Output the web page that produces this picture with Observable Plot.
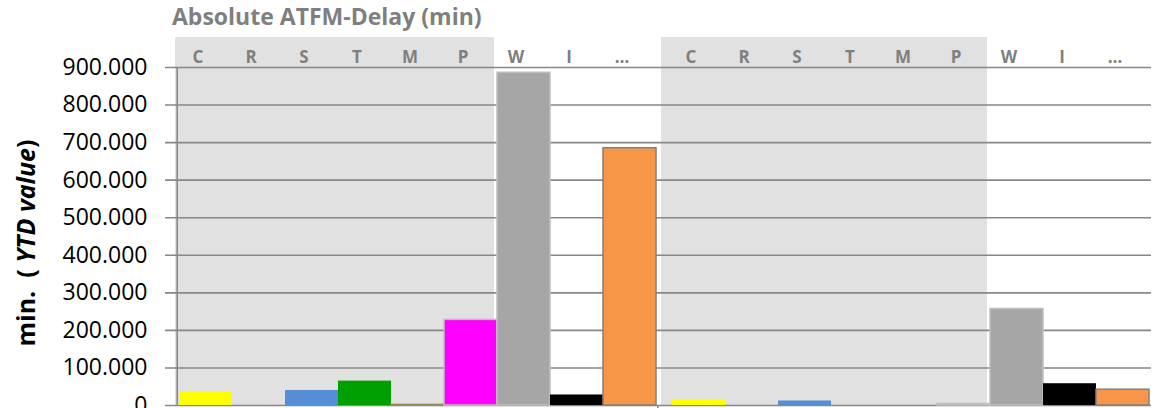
<!DOCTYPE html>
<html>
<head>
<meta charset="utf-8">
<script src="https://cdn.jsdelivr.net/npm/d3@7"></script>
<script src="https://cdn.jsdelivr.net/npm/@observablehq/plot@0.6"></script>
<style>
  html, body { margin: 0; padding: 0; background: #fff; }
  #wrap { position: relative; width: 1157px; height: 408px; overflow: hidden; font-family: "Open Sans", sans-serif; }
  #title { position: absolute; left: 172px; top: 1px; font-size: 23px; font-weight: bold; color: #7f7f7f; white-space: nowrap; line-height: 31px; }
  #ylab { position: absolute; left: 25px; top: 243px; transform: translate(-50%, -50%) rotate(-90deg); font-size: 25px; font-weight: bold; color: #000; white-space: nowrap; }
  #chart { position: absolute; left: 0; top: 37px; }
</style>
</head>
<body>
<div id="wrap">
  <div id="title">Absolute ATFM-Delay (min)</div>
  <div id="ylab">min.&nbsp; ( <i>YTD value</i>)</div>
  <div id="chart"></div>
</div>
<script>
// ---- data ----
const categories = ["C", "R", "S", "T", "M", "P", "W", "I", "…"];
const groupNames = ["g1", "g2"];
const group1Values = [37000, 0, 40000, 65000, 1500, 228000, 886000, 28000, 685000];
const group2Values = [15000, 0, 12000, 0, 0, 4000, 257000, 58000, 42000];
const shadedCategories = ["C", "R", "S", "T", "M", "P"];
const yTicks = [0, 100000, 200000, 300000, 400000, 500000, 600000, 700000, 800000, 900000];
const categoryColors = ["#FFFF00", "#FFFFFF", "#558ED5", "#00A000", "#948A54", "#FF00FF", "#A6A6A6", "#000000", "#F79646"];
const categoryStrokes = ["none", "none", "none", "none", "#948A54", "#BFBFBF", "#BFBFBF", "none", "#808080"];

// ---- build table ----
const groupValues = [group1Values, group2Values];
const rows = [];
groupNames.forEach((g, gi) => {
  categories.forEach((c, i) => {
    rows.push({group: g, cat: c, value: groupValues[gi][i]});
  });
});
const bgRows = rows.filter(d => shadedCategories.includes(d.cat));

const fmt = d3.formatLocale({decimal: ",", thousands: ".", grouping: [3], currency: ["", ""]}).format(",");

const W = 1157, H = 371, mL = 176, mR = 6, mT = 30, mB = 3;
const gap = 11;
const facetW = (W - mL - mR - gap) / 2;
const step = facetW + gap;
const bw = facetW / categories.length;
const bgFill = "#E1E1E1";
const gridColor = "#878787";

const plot = Plot.plot({
  width: W,
  height: H,
  marginLeft: mL,
  marginRight: mR,
  marginTop: mT,
  marginBottom: mB,
  style: {fontFamily: "Open Sans, sans-serif", background: "transparent", overflow: "visible"},
  fx: {domain: groupNames, paddingInner: gap / step, paddingOuter: 0, axis: null, label: null},
  x: {type: "band", domain: categories, padding: 0, axis: null},
  y: {domain: [0, 900000], axis: null},
  marks: [
    // shaded background band (C..P)
    Plot.barY(bgRows.filter(d => d.cat !== "C" && d.cat !== "P"), {fx: "group", x: "cat", y1: 0, y2: 900000, insetTop: -mT, fill: bgFill}),
    Plot.barY(bgRows.filter(d => d.cat === "C" && d.group === "g1"), {fx: "group", x: "cat", y1: 0, y2: 900000, insetTop: -mT, insetLeft: -4, fill: bgFill}),
    Plot.barY(bgRows.filter(d => d.cat === "C" && d.group === "g2"), {fx: "group", x: "cat", y1: 0, y2: 900000, insetTop: -mT, insetLeft: -gap, fill: bgFill}),
    Plot.barY(bgRows.filter(d => d.cat === "P"), {fx: "group", x: "cat", y1: 0, y2: 900000, insetTop: -mT, insetRight: 3, fill: bgFill}),
    // gridlines (extend left to form ticks / bridge the gap)
    Plot.ruleY(yTicks, {stroke: gridColor, strokeWidth: 1.6, insetLeft: -gap}),
    // bars
    Plot.barY(rows.filter(d => d.value > 0), {
      fx: "group", x: "cat", y: "value",
      fill: d => categoryColors[categories.indexOf(d.cat)],
      stroke: d => categoryStrokes[categories.indexOf(d.cat)],
      strokeWidth: 1.5
    }),
    // vertical value axis line
    Plot.ruleX([{group: "g1", cat: "C"}], {fx: "group", x: "cat", y1: 0, y2: 900000, dx: -bw / 2 - 2, stroke: gridColor, strokeWidth: 1.6}),
    // small tick between groups
    Plot.ruleX([{group: "g1", cat: "…"}], {fx: "group", x: "cat", y1: 0, y2: 0, insetBottom: -4, dx: bw / 2 + 1, stroke: gridColor, strokeWidth: 1.6}),
    Plot.axisX({anchor: "top", tickSize: 0, tickPadding: 5, dx: -8, fontSize: 17, fontWeight: "bold", color: "#7f7f7f", label: null}),
    Plot.axisY({ticks: yTicks, tickSize: 0, tickPadding: 29, fontSize: 23, color: "#000", tickFormat: fmt, label: null, facetAnchor: "left"})
  ]
});
document.getElementById("chart").appendChild(plot);
</script>
</body>
</html>
